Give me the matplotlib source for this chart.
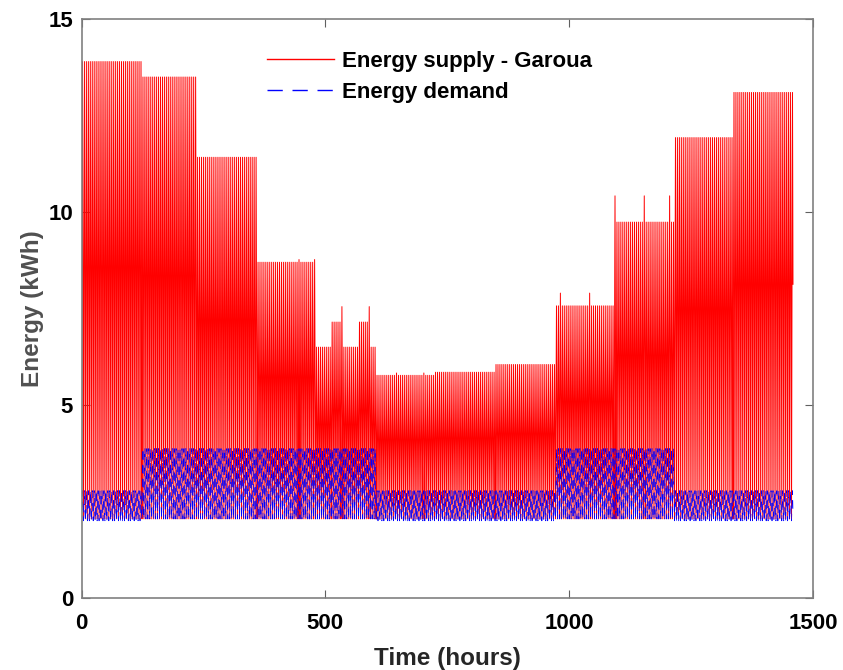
import numpy as np
import matplotlib
matplotlib.use("Agg")
import matplotlib.pyplot as plt

plt.rcParams['font.family'] = ['Liberation Sans', 'DejaVu Sans']
plt.rcParams['font.weight'] = 'bold'
plt.rcParams['axes.labelweight'] = 'bold'
plt.rcParams['path.simplify'] = False

# one year, 4 samples per day
month_days = [31, 28, 31, 30, 31, 30, 31, 31, 30, 31, 30, 31]

# daily peak of the supply for each month (kWh)
supply_peak = [13.9, 13.5, 11.42, 8.7, 6.5, 5.77, 5.85, 6.05, 7.57, 9.74, 11.93, 13.1]
supply_base = 2.05
# (month, first day, last day, peak) where the peak differs from the month value
supply_overrides = [
    (3, 21, 21, 8.77), (3, 29, 29, 8.77),
    (4, 8, 12, 7.15), (4, 13, 13, 7.55), (4, 22, 26, 7.15), (4, 27, 27, 7.55),
    (5, 10, 10, 5.83), (5, 24, 24, 5.83),
    (8, 2, 2, 7.9), (8, 17, 17, 7.9),
    (9, 0, 0, 10.42), (9, 15, 15, 10.42), (9, 28, 28, 10.42),
]
# shape of one supply day (0 = base, 1 = peak)
supply_day = [0.0, 0.55, 1.0, 0.55]

# demand: months with the higher load profile
demand_high_month = [0, 1, 1, 1, 1, 0, 0, 0, 1, 1, 0, 0]
demand_day_low = [2.0, 2.45, 2.78, 2.2]
demand_day_high = [2.05, 3.1, 3.87, 2.55]

# build the series
day_peaks = []
for m, n in enumerate(month_days):
    p = [supply_peak[m]] * n
    for mm, d0, d1, v in supply_overrides:
        if mm == m:
            for d in range(d0, d1 + 1):
                p[d] = v
    day_peaks += p

supply = []
for pk in day_peaks:
    supply += [supply_base + s * (pk - supply_base) for s in supply_day]

demand = []
for m, n in enumerate(month_days):
    prof = demand_day_high if demand_high_month[m] else demand_day_low
    demand += prof * n

t = np.arange(len(supply))

fig = plt.figure(figsize=(8.43, 6.70), dpi=100)
ax = fig.add_axes([0.0967, 0.1075, 0.8677, 0.864])

ax.plot(t, supply, color='red', lw=0.7, label='Energy supply - Garoua')
ax.plot(t, demand, color='blue', lw=0.55, dashes=(11, 7), label='Energy demand')

ax.set_xlim(0, 1500)
ax.set_ylim(0, 15)
ax.set_xticks([0, 500, 1000, 1500])
ax.set_yticks([0, 5, 10, 15])
ax.tick_params(direction='in', top=True, right=True, labelsize=16, length=6,
               color='#606060')
ax.tick_params(axis='x', pad=11)
ax.tick_params(axis='y', pad=6)
for s in ax.spines.values():
    s.set_color('#808080')
    s.set_linewidth(1.2)

ax.set_xlabel('Time (hours)', fontsize=17.5, color='#262626', labelpad=9)
ax.set_ylabel('Energy (kWh)', fontsize=17.5, color='#505050', labelpad=3)

leg = ax.legend(loc='upper center', bbox_to_anchor=(0.476, 0.98), frameon=False,
                fontsize=16, handlelength=3.0, handletextpad=0.4, labelspacing=0.45)
for h in leg.get_lines():
    h.set_linewidth(1.0)

fig.savefig('out.png', dpi=100)
